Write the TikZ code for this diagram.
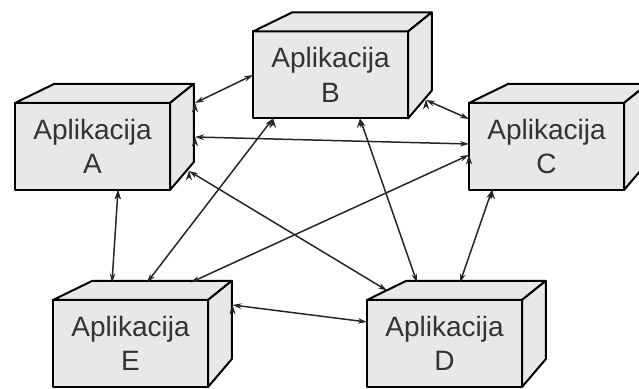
\documentclass[tikz,border=0pt]{standalone}
\usepackage{fontspec}
\setmainfont{Liberation Sans}
\usetikzlibrary{calc,arrows.meta}
\definecolor{appgrey}{RGB}{231,233,233}
\tikzset{
  app/.style={shape=rectangle, draw=black, fill=appgrey, line width=2pt, line join=round,
    minimum width=155pt, minimum height=87pt, inner sep=0pt, outer sep=0pt,
    align=center, font=\fontsize{28}{34.5}\selectfont, text=black!80},
  face/.style={draw=black, fill=appgrey, line width=2pt, line join=round},
  link/.style={<->, >={Stealth[length=9pt,width=5.5pt]}, line width=1.5pt, draw=black!85}
}
\begin{document}
\begin{tikzpicture}[x=1pt,y=1pt]
\useasboundingbox (0,0) rectangle (639,388);
\node[app] (A) at (92.5,241.5) {Aplikacija\\A};
\node[app] (B) at (330.5,313) {Aplikacija\\B};
\node[app] (C) at (546.5,241.5) {Aplikacija\\C};
\node[app] (D) at (444.5,44.5) {Aplikacija\\D};
\node[app] (E) at (130.5,44.5) {Aplikacija\\E};
% top and side of every box, seen towards a point up and to the right
\foreach \n in {A,B,C,D,E} {
  \coordinate (\n vp) at ($(\n.center)+(315,235)$);
  \draw[face] (\n.north west) -- ($(\n.north west)!.1!(\n vp)$) -- ($(\n.north east)!.1!(\n vp)$) -- (\n.north east) -- cycle;
  \draw[face] (\n.north east) -- ($(\n.north east)!.1!(\n vp)$) -- ($(\n.south east)!.1!(\n vp)$) -- (\n.south east) -- cycle;
}
\path [link] ($(A.north east)+(25,0)$) edge (B.west);
\path [link] ($(A.east)+(25,9.5)$) edge ($(C.west)+(0,2.5)$);
\path [link] ($(B.south east)+(18,18.5)$) edge ($(C.north west)+(0,-16)$);
\path [link] ($(C.west)+(0,-8.5)$) edge ($(E.north)+(60,17.5)$);
\path [link] ($(B.south)+(-57.5,0)$) edge ($(E.north)+(16.5,17.5)$);
\path [link] ($(B.south)+(29.5,0)$) edge ($(D.north)+(-27.5,17.5)$);
\path [link] ($(A.south east)+(19,19)$) edge ($(D.north west)+(20,9.5)$);
\path [link] ($(A.south)+(25.5,0)$) edge ($(E.north)+(-18.5,17.5)$);
\path [link] ($(C.south)+(-54.5,0)$) edge ($(D.north)+(15.5,17.5)$);
\path [link] ($(E.north east)+(24.5,-5)$) edge ($(D.north west)+(0,-22)$);
\end{tikzpicture}
\end{document}
